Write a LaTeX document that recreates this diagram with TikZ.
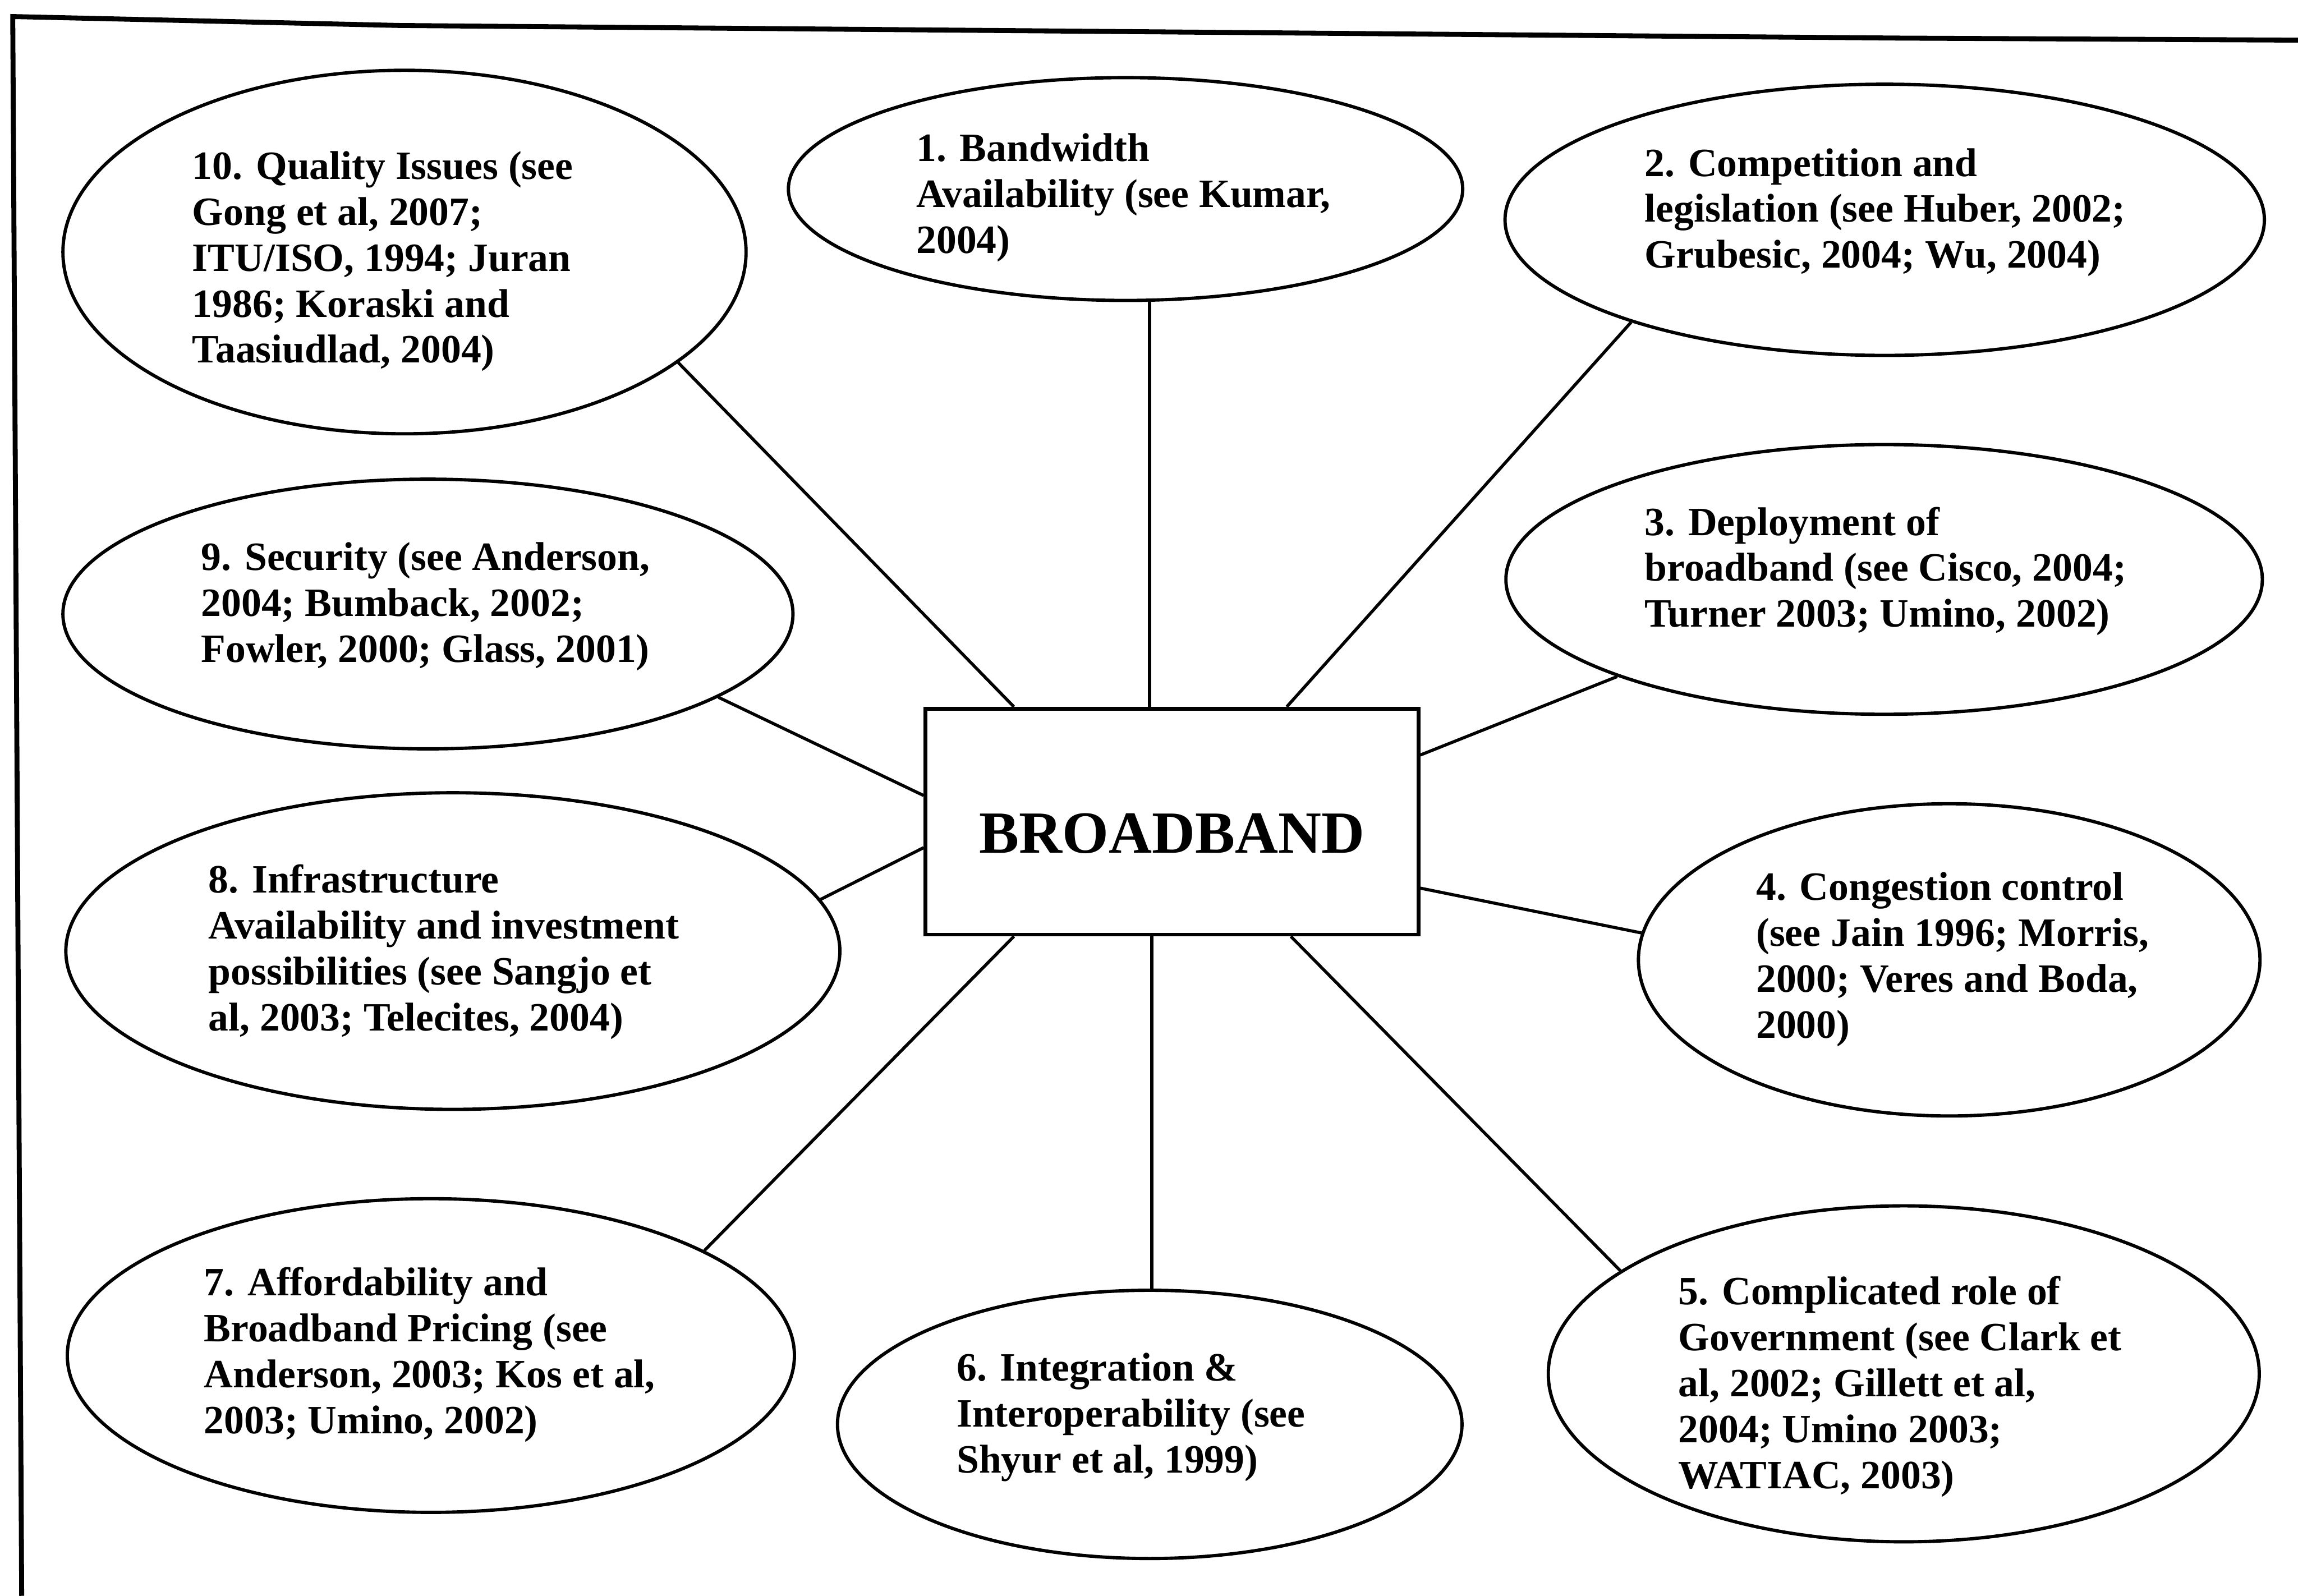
\documentclass[tikz,border=0pt]{standalone}
\usepackage{fontspec}
\setmainfont{Liberation Serif}
\usetikzlibrary{shapes.geometric}
\begin{document}
\begin{tikzpicture}[x=0.025cm,y=-0.025cm,
  bubble/.style={ellipse, draw, line width=1.6pt, inner sep=0pt},
  txt/.style={anchor=north west, align=left, inner sep=0pt,
    font=\bfseries\fontsize{19.5}{22.3}\selectfont},
  hub/.style={rectangle, draw, line width=1.8pt, inner sep=0pt,
    font=\bfseries\fontsize{29}{34}\selectfont, text height=30.5pt, text depth=0pt},
  link/.style={line width=1.5pt},
  frame/.style={line width=2.4pt, line join=miter}]
\useasboundingbox (0,0) rectangle (1568,1089);
% frame (top and left edges only)
\draw[frame] (14.8,1089) -- (8.7,11.3) -- (273,17.4) -- (1296,26) -- (1568,27.4);

% centre box
\node[hub, minimum width=8.4075cm, minimum height=3.8525cm] (box) at (799.65,560.65) {BROADBAND};

% ellipses
\node[bubble, minimum width=11.65cm,  minimum height=6.2cm]   (e10) at (276,172) {};
\node[bubble, minimum width=12.45cm,  minimum height=4.6cm]   (e9)  at (292,419) {};
\node[bubble, minimum width=13.2cm,   minimum height=5.4cm]   (e8)  at (309,649) {};
\node[bubble, minimum width=12.4cm,   minimum height=5.35cm]  (e7)  at (294,925) {};
\node[bubble, minimum width=11.5cm,   minimum height=3.8cm]   (e1)  at (768,129) {};
\node[bubble, minimum width=10.65cm,  minimum height=4.575cm] (e6)  at (784.5,972) {};
\node[bubble, minimum width=12.95cm,  minimum height=4.625cm] (e2)  at (1286,150) {};
\node[bubble, minimum width=12.9cm,   minimum height=4.6cm]   (e3)  at (1285.6,395.4) {};
\node[bubble, minimum width=10.6cm,   minimum height=5.325cm] (e4)  at (1330,655) {};
\node[bubble, minimum width=12.125cm, minimum height=5.73cm]  (e5)  at (1299,937.5) {};

% texts
\node[txt] (t10) at (131,100) {\strut 10. Quality Issues (see\\Gong et al, 2007;\\ITU/ISO, 1994; Juran\\1986; Koraski and\\Taasiudlad, 2004)};
\node[txt] (t9) at (137,367) {\strut 9. Security (see Anderson,\\2004; Bumback, 2002;\\Fowler, 2000; Glass, 2001)};
\node[txt] (t8) at (142,587) {\strut 8. Infrastructure\\Availability and investment\\possibilities (see Sangjo et\\al, 2003; Telecites, 2004)};
\node[txt] (t7) at (139,862) {\strut 7. Affordability and\\Broadband Pricing (see\\Anderson, 2003; Kos et al,\\2003; Umino, 2002)};
\node[txt] (t1) at (625,88) {\strut 1. Bandwidth\\Availability (see Kumar,\\2004)};
\node[txt] (t6) at (652.5,920) {\strut 6. Integration \&\\Interoperability (see\\Shyur et al, 1999)};
\node[txt] (t2) at (1122,98) {\strut 2. Competition and\\legislation (see Huber, 2002;\\Grubesic, 2004; Wu, 2004)};
\node[txt] (t3) at (1122,343) {\strut 3. Deployment of\\broadband (see Cisco, 2004;\\Turner 2003; Umino, 2002)};
\node[txt] (t4) at (1198,592) {\strut 4. Congestion control\\(see Jain 1996; Morris,\\2000; Veres and Boda,\\2000)};
\node[txt] (t5) at (1145,868) {\strut 5. Complicated role of\\Government (see Clark et\\al, 2002; Gillett et al,\\2004; Umino 2003;\\WATIAC, 2003)};

% connectors
\draw[link] (box.144.15) -- (e10.-22.49);
\draw[link] (box.101.48) -- (box.101.48 |- e1.south);
\draw[link] (box.45.26) -- (e2.-158.4);
\draw[link] (box.15.19) -- (e3.-160.4);
\draw[link] (box.-15.73) -- (e4.175.72);
\draw[link] (box.-44.74) -- (e5.160.38);
\draw[link] (box.-100.77) -- (box.-100.77 |- e6.north);
\draw[link] (box.-144.5) -- (e7.21.96);
\draw[link] (box.-174.78) -- (e8.8.29);
\draw[link] (box.174.18) -- (e9.-16.75);
\end{tikzpicture}
\end{document}
